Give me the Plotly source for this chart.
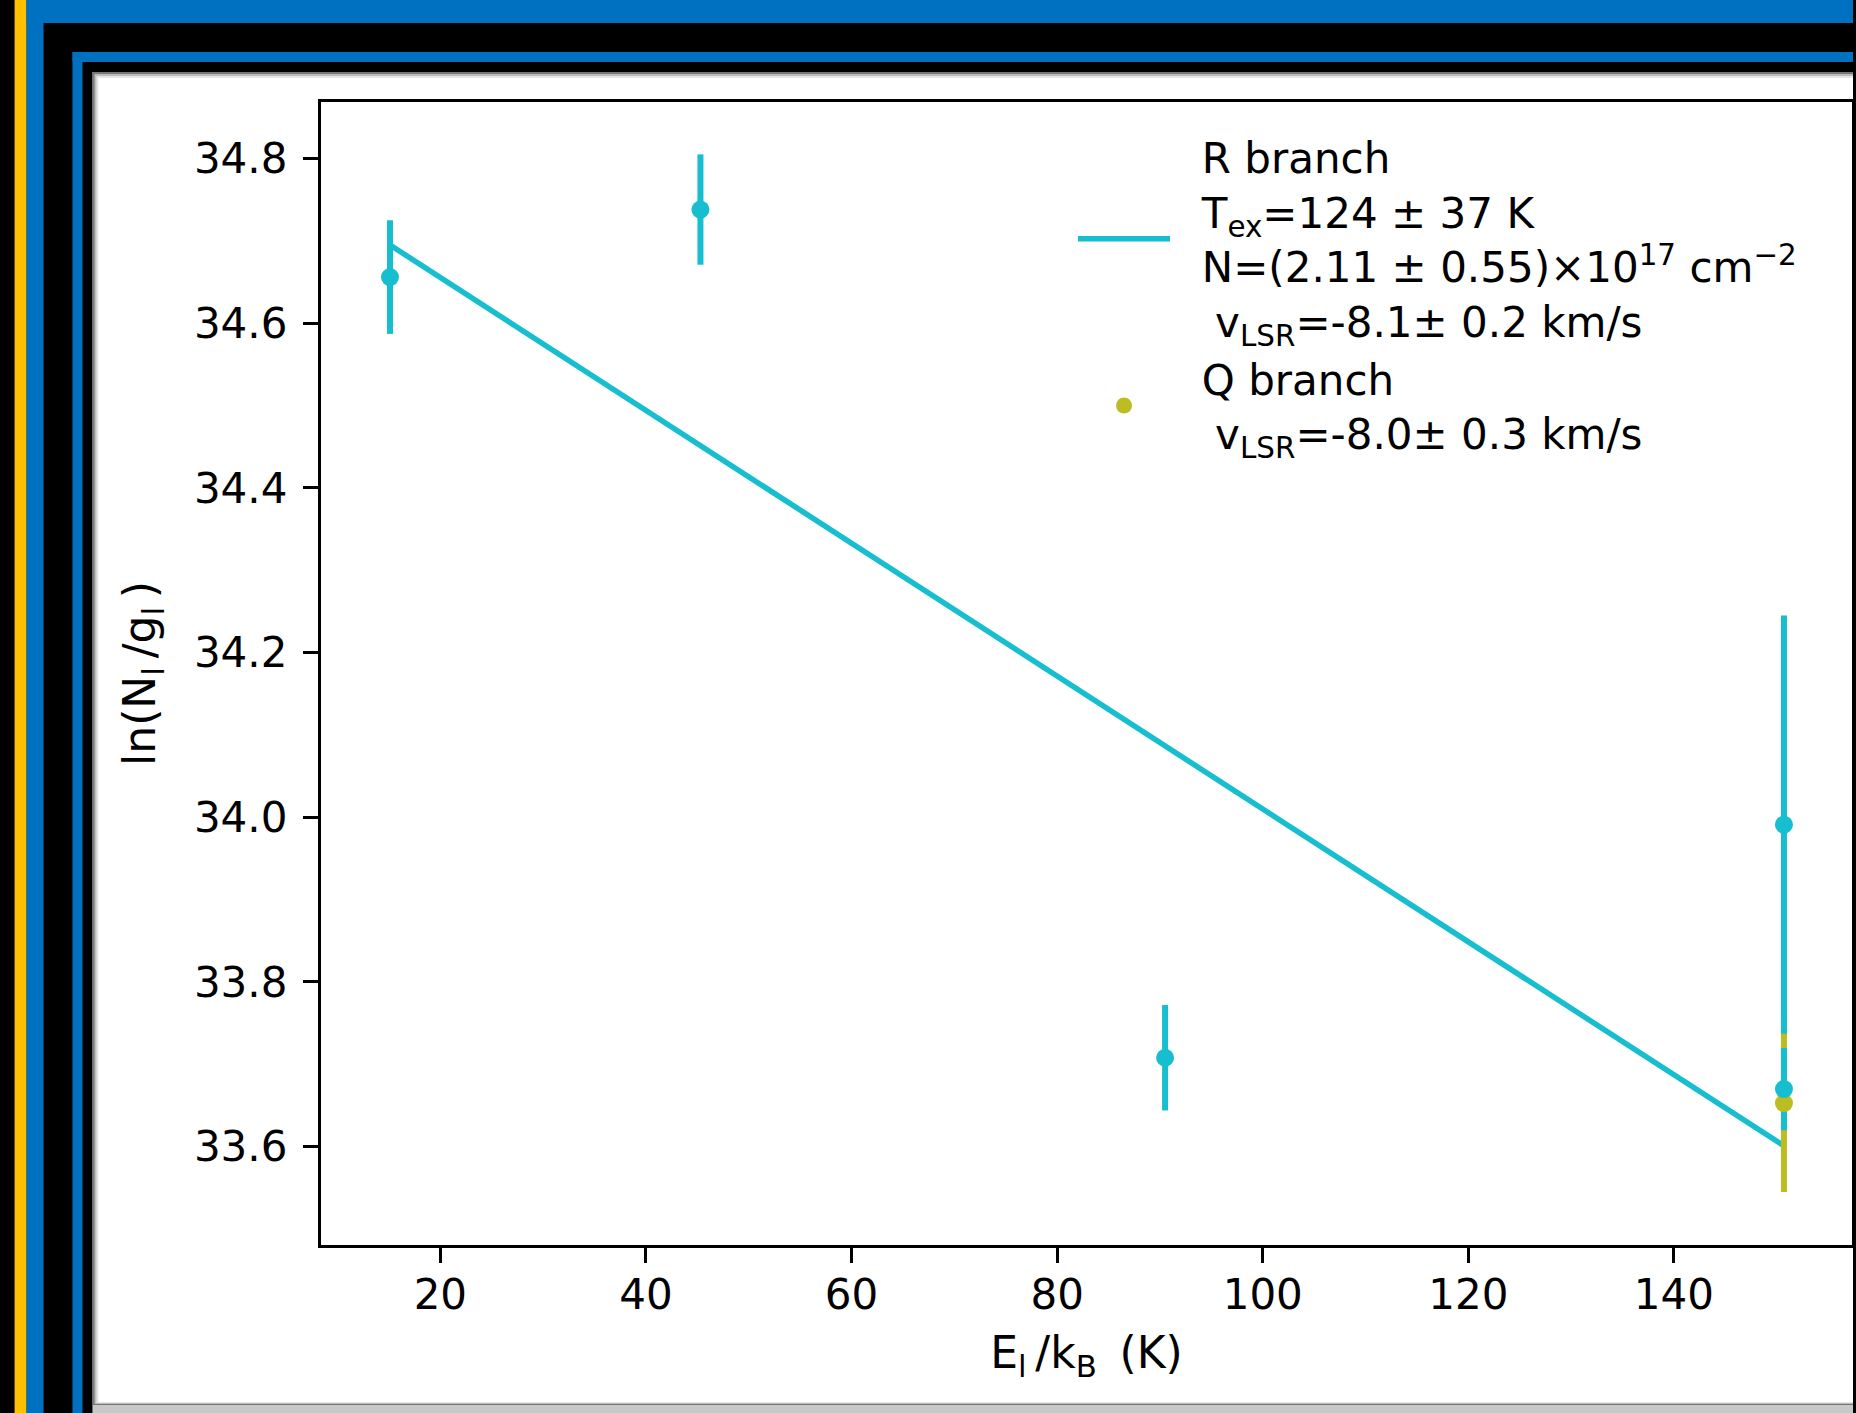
import plotly.graph_objects as go

# ---------------- data ----------------
r_x = [15.1, 45.3, 90.5, 150.7, 150.7]
r_y = [34.656, 34.738, 33.708, 33.991, 33.670]
r_err = [0.069, 0.067, 0.064, 0.254, 0.050]

q_x = [150.7]
q_y = [33.653]
q_err = [0.108]

fit_x = [15.1, 150.7]
fit_y = [34.695, 33.601]

x_ticks = [20, 40, 60, 80, 100, 120, 140]
x_tick_labels = ["20", "40", "60", "80", "100", "120", "140"]
y_ticks = [33.6, 33.8, 34.0, 34.2, 34.4, 34.6, 34.8]
y_tick_labels = ["33.6", "33.8", "34.0", "34.2", "34.4", "34.6", "34.8"]

r_label = ("  R branch<br>"
           "  T<sub>ex</sub>=124 ± 37 K<br>"
           "  N=(2.11 ± 0.55)×10<sup>17</sup> cm<sup>−2</sup><br>"
           "   v<sub>LSR</sub>=-8.1± 0.2 km/s")
q_label = ("  Q branch<br>"
           "   v<sub>LSR</sub>=-8.0± 0.3 km/s")

x_title = "E<sub>l</sub>\u2009/k<sub>B</sub>\u2009 (K)"
y_title = "ln(N<sub>l</sub>\u2009/g<sub>l</sub>\u2009)"

# ---------------- style ----------------
CYAN = "#17becf"
OLIVE = "#bcbd22"
BLUE = "#0070c0"
GOLD = "#ffc000"
FONT = "DejaVu Sans"
FS = 42
FS_TITLE = 44

W, H = 1856, 1413
ML, MR, MT, MB = 321, 1, 102, 168
PW, PH = W - ML - MR, H - MT - MB


def px(x):
    return (x - ML) / PW


def py(y):
    return (H - MB - y) / PH


fig = go.Figure()

# fit line (R branch legend)
fig.add_trace(go.Scatter(x=fit_x, y=fit_y, mode="lines", name=r_label,
                         line=dict(color=CYAN, width=5.5), showlegend=True))
# Q branch error bar (under R bars)
fig.add_trace(go.Scatter(x=q_x, y=q_y, mode="markers", showlegend=False,
                         marker=dict(size=1, color=OLIVE, opacity=0),
                         error_y=dict(type="data", array=q_err, visible=True,
                                      color=OLIVE, thickness=6, width=0)))
# R branch error bars
fig.add_trace(go.Scatter(x=r_x, y=r_y, mode="markers", showlegend=False,
                         marker=dict(size=1, color=CYAN, opacity=0),
                         error_y=dict(type="data", array=r_err, visible=True,
                                      color=CYAN, thickness=6, width=0)))
# Q branch marker (legend)
fig.add_trace(go.Scatter(x=q_x, y=q_y, mode="markers", name=q_label,
                         marker=dict(size=18, color=OLIVE, line=dict(width=0)),
                         showlegend=True))
# R branch markers
fig.add_trace(go.Scatter(x=r_x, y=r_y, mode="markers", showlegend=False,
                         marker=dict(size=18, color=CYAN, line=dict(width=0))))

# ---------------- frame shapes ----------------
shapes = []


def rect(x0, y0, x1, y1, color):
    shapes.append(dict(type="rect", xref="paper", yref="paper",
                       x0=px(x0), x1=px(x1), y0=py(y1), y1=py(y0),
                       fillcolor=color, line=dict(width=0), layer="below"))


rect(14, 0, 26, H, GOLD)
rect(26, 0, W, 23, BLUE)
rect(26, 0, 43, H, BLUE)
rect(72, 52, W, 62, BLUE)
rect(72, 52, 82, H, BLUE)
rect(92, 72, W, H, "#c8c8c8")
rect(92, 72, W, 1405, "#777777")
rect(94, 74, W, 1404, "#bbbbbb")
rect(96, 76, W, 1403, "#e6e6e6")
rect(98, 78, W, 1402, "#ffffff")

fig.update_layout(
    width=W, height=H,
    margin=dict(l=ML, r=MR, t=MT, b=MB, pad=0),
    paper_bgcolor="#000000",
    plot_bgcolor="rgba(0,0,0,0)",
    font=dict(family=FONT, size=FS, color="black"),
    shapes=shapes,
    showlegend=True,
    legend=dict(x=px(1074.5), y=py(123), xanchor="left", yanchor="top",
                bgcolor="rgba(0,0,0,0)", borderwidth=0, itemwidth=92,
                font=dict(family=FONT, size=FS, color="black"),
                valign="middle"),
    xaxis=dict(range=[8.39, 157.32], tickvals=x_ticks, ticktext=x_tick_labels,
               ticks="outside", ticklen=15, tickwidth=3.4, tickcolor="black",
               ticklabelstandoff=-5,
               showline=True, linewidth=3.4, linecolor="black", mirror=True,
               showgrid=False, zeroline=False,
               tickfont=dict(family=FONT, size=FS, color="black"),
               title=dict(text=x_title, font=dict(family=FONT, size=FS_TITLE, color="black"),
                          standoff=20)),
    yaxis=dict(range=[33.4806, 34.8686], tickvals=y_ticks, ticktext=y_tick_labels,
               ticks="outside", ticklen=15, tickwidth=3.4, tickcolor="black",
               ticklabelstandoff=7,
               showline=True, linewidth=3.4, linecolor="black", mirror=True,
               showgrid=False, zeroline=False,
               tickfont=dict(family=FONT, size=FS, color="black"),
               title=dict(text=y_title, font=dict(family=FONT, size=FS_TITLE, color="black"),
                          standoff=25)),
)

fig.write_html("out.html",
               config={"displayModeBar": False},
               post_script="document.body.style.margin='0';"
                           "document.body.style.overflow='hidden';")
